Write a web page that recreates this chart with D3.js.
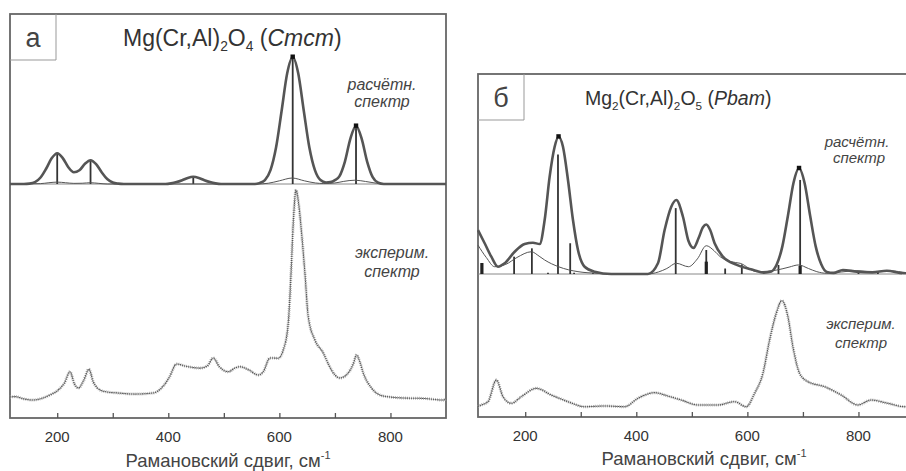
<!DOCTYPE html>
<html><head><meta charset="utf-8">
<script src="https://cdn.jsdelivr.net/npm/d3@7"></script>
<style>
body{margin:0;background:#fff;}
svg{display:block;font-family:"Liberation Sans",Arial,sans-serif;}
</style></head>
<body><svg id="c" width="906" height="471"></svg>
<script>
// ---------- data (Raman shift cm^-1, intensity in arbitrary units) ----------
const xDomain = [115, 900];
const tickValues = [200, 300, 400, 500, 600, 700, 800];
const tickLabels = ["200", "400", "600", "800"];

// Panel a: Mg(Cr,Al)2O4 (Cmcm)
const calcA = [[115,0],[140,0],[150,0.3],[160,1.5],[170,5.1],[180,12],[190,20.2],[200,24.2],[210,20.4],[220,13.2],[230,9.2],[240,10.8],[250,15.9],[260,18.7],[270,15.6],[280,9.3],[290,3.9],[300,1.2],[310,0.3],[320,0],[395,0],[405,0.5],[415,1.5],[425,3],[435,4.8],[445,5.7],[455,4.8],[465,3],[475,1.5],[485,0.5],[495,0],[556,0],[564,0.7],[574,3.1],[584,10.9],[594,28.7],[604,57.5],[614,87],[624,100],[634,87],[644,57.5],[654,28.7],[664,10.9],[674,3.1],[684,1.2],[692,1.5],[700,3],[708,6],[718,17.7],[728,36],[738,45.7],[748,36],[758,17.7],[768,5.4],[778,1],[788,0],[900,0]];
const calcThinA = [[115,0],[170,0.3],[185,1],[200,1.5],[215,1],[230,0.5],[245,0.6],[260,1],[275,0.5],[290,0],[560,0],[580,0.6],[600,2.5],[623,4.7],[645,2.5],[665,0.8],[680,0.4],[700,0.8],[715,2],[736,3],[755,2],[775,0.6],[790,0],[900,0]];
const sticksA = [[200,24.2],[260,18.7],[445,5.7],[624,100],[738,45.7]];
const dotsA = [[624,100],[738,45.7]];
const expA = [[115,9.1],[124,9.3],[140,8.3],[156,7.8],[169,8.3],[187,10],[202,12.2],[213,15.2],[223,20.1],[231,14.8],[238,13],[248,16.5],[257,21.2],[265,15.7],[277,12.2],[290,11.3],[308,10.9],[340,10.4],[373,10.9],[390,13.6],[402,17.8],[415,23.5],[430,22.6],[457,21.7],[470,22.6],[481,26.1],[492,22.3],[508,20.1],[520,21.7],[529,22.3],[545,20.9],[562,18.7],[571,20.1],[583,26.1],[598,26],[607,29.6],[616,41.3],[621,63],[625,84.8],[630,99.1],[635,92.6],[640,80.4],[646,63],[652,44],[664,33.9],[679,28.3],[690,22.6],[700,18.7],[709,17.4],[724,19.6],[733,23.5],[739,27.4],[745,24.3],[751,19.6],[766,13],[781,10],[800,9.1],[823,8.7],[860,8.5],[895,7.8],[900,8.3]];

// Panel б: Mg2(Cr,Al)2O5 (Pbam)
const calcB = [[115,32],[127,22.4],[139,12.6],[151,5.3],[163,7.8],[181,16.2],[199,21.8],[214,22.8],[226,21.8],[235,39.3],[244,70.9],[253,92.7],[260,100],[268,92.7],[277,68.5],[286,39.3],[295,17.5],[307,5.3],[325,1.7],[355,0],[421,0],[439,7.8],[451,32],[463,49],[472,53.9],[484,41.7],[494,24],[503,19],[512,26],[520,34],[526,36],[533,32],[541,22.4],[556,12.6],[581,6.6],[611,2.9],[630,1],[643,1.8],[653,7.1],[663,20.1],[673,42.4],[683,66.3],[693,77],[703,66.3],[713,42.4],[723,20.1],[733,7.1],[743,1.5],[755,0.8],[772,2.9],[797,1.7],[825,1.2],[851,2.4],[881,0.5],[900,0.5]];
const calcThinB = [[115,21],[130,12],[145,5.3],[165,7],[185,12],[211,16.2],[225,13],[235,10.2],[260,5.3],[295,1.7],[331,0.5],[360,0],[420,0],[440,1.5],[455,4],[472,7.8],[494,5.3],[510,11],[526,20.6],[540,17],[551,12.6],[570,9],[587,7.8],[617,1.7],[653,2.9],[675,5],[692,6.6],[710,4],[725,1.7],[743,0.5],[770,1.5],[797,2.4],[825,1.5],[857,2.4],[887,1],[900,0.8]];
const sticksB = [[122,8],[180,12.6],[212,18.7],[241,1],[259,87],[281,22.4],[288,1],[322,1],[471,48],[526,17.5],[560,4],[590,7],[656,6.6],[695,68.5],[800,1],[835,1]];
const boldSticksB = [[122,8],[526,9],[695,6]];
const dotsB = [[260,100],[693,77]];
const expB = [[115,9],[121,10.3],[133,13.1],[148,31.6],[160,17.4],[175,11.7],[193,17.4],[220,24.5],[247,18.8],[277,13.1],[307,8.8],[343,9.4],[379,8.8],[403,16],[433,20.8],[457,17.9],[481,14.5],[511,10.3],[547,10.3],[577,13.1],[598,8.8],[613,20.3],[628,37.3],[640,65.8],[652,88.6],[662,99.4],[673,85.7],[682,60.1],[694,37.3],[709,30.2],[739,25.9],[769,18.8],[799,10.3],[823,14.5],[853,11.7],[883,8.8],[900,9]];

// ---------- drawing ----------
const svg = d3.select("#c");

function panel(o){
  const g = svg.append("g");
  const x = d3.scaleLinear().domain(xDomain).range([o.left, o.right]);
  const yC = d3.scaleLinear().domain([0,100]).range([o.calcBase, o.calcTop]);
  const yE = d3.scaleLinear().domain([0,100]).range([o.bottom, o.expTop]);

  // frame
  g.append("rect").attr("x",o.left).attr("y",o.top).attr("width",o.right-o.left).attr("height",o.bottom-o.top)
    .attr("fill","none").attr("stroke","#666").attr("stroke-width",1.8);
  // label box
  g.append("path").attr("d",`M${o.left},${o.top+46}H${o.left+46}V${o.top}`)
    .attr("fill","none").attr("stroke","#999").attr("stroke-width",1);
  g.append("text").attr("x",o.left+23).attr("y",o.top+33).attr("text-anchor","middle")
    .attr("font-size",27).attr("fill","#444").text(o.letter);

  // baseline of calculated spectrum
  g.append("line").attr("x1",o.left).attr("x2",o.right-12).attr("y1",yC(0)).attr("y2",yC(0))
    .attr("stroke","#888").attr("stroke-width",1);

  // sticks
  g.selectAll(null).data(o.sticks).join("line")
    .attr("x1",d=>x(d[0])).attr("x2",d=>x(d[0])).attr("y1",yC(0)).attr("y2",d=>yC(d[1]))
    .attr("stroke","#333").attr("stroke-width",1.8);
  if(o.bold) g.selectAll(null).data(o.bold).join("line")
    .attr("x1",d=>x(d[0])).attr("x2",d=>x(d[0])).attr("y1",yC(0)).attr("y2",d=>yC(d[1]))
    .attr("stroke","#222").attr("stroke-width",3.2);

  const line = (yS)=>d3.line().x(d=>x(d[0])).y(d=>yS(d[1])).curve(d3.curveMonotoneX);
  // thin calc
  g.append("path").attr("d",line(yC)(o.thin)).attr("fill","none").attr("stroke","#555").attr("stroke-width",1);
  // thick calc
  g.append("path").attr("d",line(yC)(o.calc)).attr("fill","none").attr("stroke","#555").attr("stroke-width",2.6);
  g.selectAll(null).data(o.dots).join("rect")
    .attr("x",d=>x(d[0])-2.2).attr("y",d=>yC(d[1])-2.5).attr("width",4.4).attr("height",4.4).attr("fill","#111");
  // experimental (noisy dotted trace look)
  g.append("path").attr("d",line(yE)(o.exp)).attr("fill","none").attr("stroke","#aaa").attr("stroke-width",3)
    .attr("stroke-dasharray","0.8,1.2");
  g.append("path").attr("d",line(yE)(o.exp)).attr("fill","none").attr("stroke","#555").attr("stroke-width",1.1)
    .attr("stroke-dasharray","1.5,0.7");

  // axis (inward ticks)
  const ax = g.append("g").attr("transform",`translate(0,${o.bottom})`)
    .call(d3.axisBottom(x).tickValues(tickValues).tickSizeInner(-5).tickSizeOuter(0).tickFormat(""));
  ax.select(".domain").remove();
  ax.selectAll(".tick line").attr("stroke","#555").attr("stroke-width",1.3);
  g.selectAll(null).data(tickLabels).join("text")
    .attr("x",d=>x(+d)).attr("y",o.bottom+24).attr("text-anchor","middle")
    .attr("font-size",15).attr("fill","#333").text(d=>d);

  // axis title
  const t = g.append("text").attr("x",o.axisTitleX).attr("y",o.axisTitleY).attr("text-anchor","middle")
    .attr("font-size",18.5).attr("fill","#444");
  t.append("tspan").text("Рамановский сдвиг, см");
  t.append("tspan").attr("font-size",11).attr("dy",-8).text("-1");

  // chart title
  const tt = g.append("text").attr("x",o.titleX).attr("y",o.titleY).attr("font-size",o.titleSize).attr("fill","#333");
  o.title.forEach(p=>{
    const s = tt.append("tspan").text(p.t);
    if(p.sub){ s.attr("font-size",o.titleSize*0.6).attr("dy",5); }
    if(p.up){ s.attr("dy",-5); }
    if(p.it){ s.attr("font-style","italic"); }
  });

  // annotations
  o.notes.forEach(n=>{
    g.append("text").attr("x",n.x).attr("y",n.y).attr("text-anchor","middle")
      .attr("font-size",o.noteSize).attr("font-style","italic").attr("fill","#444").text(n.t);
  });
}

panel({
  left:10, right:446, top:14, bottom:418, calcBase:184, calcTop:57, expTop:188,
  letter:"а", sticks:sticksA, calc:calcA, thin:calcThinA, exp:expA, dots:dotsA,
  axisTitleX:228, axisTitleY:467, titleX:123, titleY:46, titleSize:23,
  title:[{t:"Mg(Cr,Al)"},{t:"2",sub:true},{t:"O",up:true},{t:"4",sub:true},{t:" (",up:true},{t:"Cmcm",it:true},{t:")"}],
  noteSize:16,
  notes:[{t:"расчётн.",x:382,y:90},{t:"спектр",x:382,y:107},{t:"эксперим.",x:392,y:258},{t:"спектр",x:392,y:277}]
});
panel({
  left:478, right:914, top:74, bottom:417, calcBase:274, calcTop:136.7, expTop:300,
  letter:"б", sticks:sticksB, bold:boldSticksB, calc:calcB, thin:calcThinB, exp:expB, dots:dotsB,
  axisTitleX:704, axisTitleY:465, titleX:585, titleY:105, titleSize:19.5,
  title:[{t:"Mg"},{t:"2",sub:true},{t:"(Cr,Al)",up:true},{t:"2",sub:true},{t:"O",up:true},{t:"5",sub:true},{t:" (",up:true},{t:"Pbam",it:true},{t:")"}],
  noteSize:15,
  notes:[{t:"расчётн.",x:857,y:147},{t:"спектр",x:859,y:163},{t:"эксперим.",x:861,y:329},{t:"спектр",x:861,y:348}]
});
</script></body></html>
